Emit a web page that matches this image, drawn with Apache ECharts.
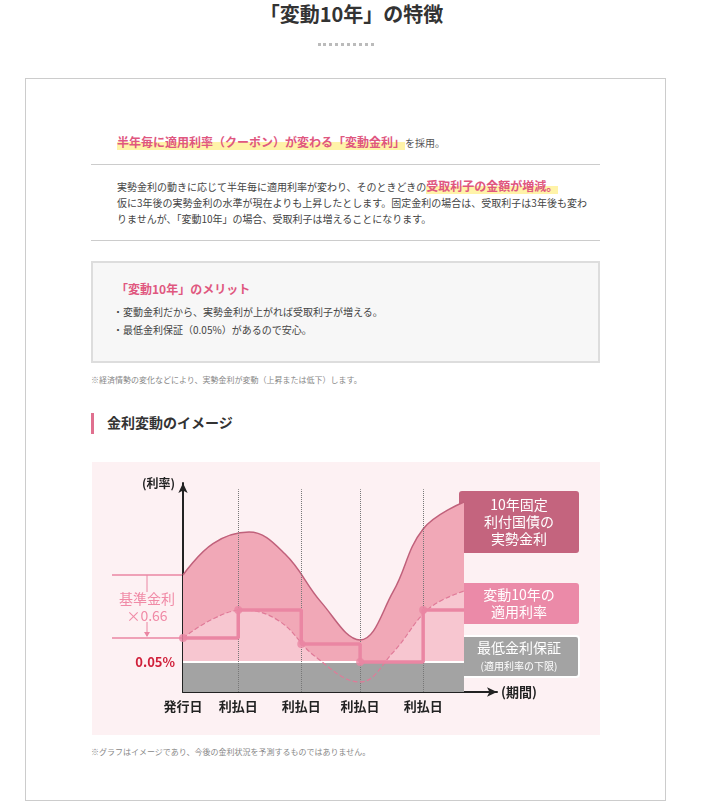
<!DOCTYPE html>
<html><head><meta charset="utf-8">
<script src="https://cdn.jsdelivr.net/npm/echarts@6/dist/echarts.min.js"></script>
<style>
body{margin:0;width:703px;height:808px;position:relative;background:#fff;font-family:"Noto Sans CJK JP",sans-serif;color:#444;overflow:hidden}
.a{position:absolute;white-space:nowrap;line-height:1}
.hl{background:linear-gradient(transparent 55%,#fff3a8 55%);color:#e0577f;font-weight:bold;font-size:12px}
.t{font-size:10px;color:#444}
</style></head><body>
<div class="a" style="left:0;width:703px;text-align:center;top:4px;font-size:20px;font-weight:bold;color:#333">「変動10年」の特徴</div>
<div class="a" style="left:318px;top:43px;width:56px;border-top:3px dotted #bbb"></div>
<div class="a" style="left:25px;top:78px;width:639px;height:721px;border:1px solid #ccc"></div>
<div class="a" style="left:117px;top:132px"><span class="hl">半年毎に適用利率（クーポン）が変わる「変動金利」</span><span style="font-size:10px;color:#555">を採用。</span></div>
<div class="a" style="left:91px;top:164px;width:509px;border-top:1px solid #ccc"></div>
<div class="a t" style="left:117px;top:180px">実勢金利の動きに応じて半年毎に適用利率が変わり、そのときどきの<span class="hl">受取利子の金額が増減。</span></div>
<div class="a t" style="left:117px;top:198px">仮に3年後の実勢金利の水準が現在よりも上昇したとします。固定金利の場合は、受取利子は3年後も変わ</div>
<div class="a t" style="left:117px;top:214px">りませんが、「変動10年」の場合、受取利子は増えることになります。</div>
<div class="a" style="left:91px;top:240px;width:509px;border-top:1px solid #ccc"></div>
<div class="a" style="left:91px;top:261px;width:505px;height:98px;background:#f7f7f7;border:2px solid #ddd"></div>
<div class="a" style="left:116px;top:283px;font-size:12px;font-weight:bold;color:#e0577f">「変動10年」のメリット</div>
<div class="a t" style="left:113px;top:307px">・変動金利だから、実勢金利が上がれば受取利子が増える。</div>
<div class="a t" style="left:113px;top:325px">・最低金利保証（0.05%）があるので安心。</div>
<div class="a" style="left:91px;top:376px;font-size:8px;color:#888">※経済情勢の変化などにより、実勢金利が変動（上昇または低下）します。</div>
<div class="a" style="left:91px;top:413px;width:3px;height:21px;background:#e0708f"></div>
<div class="a" style="left:107px;top:415px;font-size:14px;font-weight:bold;color:#333">金利変動のイメージ</div>
<div class="a" style="left:92px;top:462px;width:508px;height:273px;background:#fdf1f3"></div>
<div id="c" class="a" style="left:92px;top:462px;width:508px;height:273px"></div>
<div class="a" style="left:91px;top:748px;font-size:8px;color:#888">※グラフはイメージであり、今後の金利状況を予測するものではありません。</div>
<script>
const tickPos=[0,0.92,1.97,2.95,4.0];
const tickLabels=['発行日','利払日','利払日','利払日','利払日'];
const realX=[0,0.5,1.1,1.7,2.3,2.95,3.5,4.0,4.68];
const realY=[5.6,7.1,7.65,6.6,4.3,2.49,4.8,7.8,9.09];
const dashX=[0,0.5,1.0,1.6,2.2,2.95,3.5,4.1,4.68];
const dashY=[2.58,3.5,3.92,3.4,1.7,0.48,1.9,4.0,4.83];
const floorVal=1.44;
const stepStarts=[0,0.92,1.97,2.95,4.0];
const stepEnds=[0.92,1.97,2.95,4.0,4.68];
const stepVals=[2.58,3.92,2.30,1.44,3.92];
const endX=4.68;

const zip=(a,b)=>a.map((v,i)=>[v,b[i]]);
const stepData=[];
stepStarts.forEach((s,i)=>{stepData.push([s,stepVals[i]]);stepData.push([stepEnds[i],stepVals[i]]);});
const dots=stepStarts.map((s,i)=>[s,stepVals[i]]);
const ch=echarts.init(document.getElementById('c'));
const F='"Noto Sans CJK JP",sans-serif';
ch.setOption({
 animation:false,
 grid:{left:91,top:21,right:103,bottom:43},
 xAxis:{type:'value',min:0,max:5.23,splitLine:{show:false},
  axisLine:{lineStyle:{color:'#222',width:2},symbol:['none','arrow'],symbolSize:[7,10]},
  axisTick:{show:false},
  axisLabel:{customValues:tickPos,formatter:v=>{const i=tickPos.findIndex(p=>Math.abs(p-v)<1e-6);return i>=0?tickLabels[i]:'';},
   color:'#222',fontWeight:'bold',fontSize:13,fontFamily:F,margin:8},
  name:'(期間)',nameGap:4,nameTextStyle:{color:'#222',fontWeight:'bold',fontSize:13,fontFamily:F}},
 yAxis:{type:'value',min:0,max:10,splitLine:{show:false},
  axisLine:{show:true,lineStyle:{color:'#222',width:2},symbol:['none','arrow'],symbolSize:[7,10]},
  axisTick:{show:false},
  axisLabel:{customValues:[floorVal],formatter:()=>'0.05%',color:'#d0203a',fontWeight:'bold',fontSize:13,fontFamily:F,margin:8},
  name:'(利率)',nameLocation:'end',nameGap:-6,nameTextStyle:{color:'#222',fontWeight:'bold',fontSize:12,fontFamily:F,align:'right',padding:[0,8,0,0]}},
 series:[
  {type:'line',data:zip(realX,realY),smooth:0.4,symbol:'none',lineStyle:{color:'#c0617b',width:1.5},areaStyle:{color:'#f1a8b7',opacity:1},z:2,
   markLine:{silent:true,symbol:'none',label:{show:false},lineStyle:{color:'#777',type:'dotted',width:1},data:tickPos.slice(1).map(p=>[{coord:[p,0]},{coord:[p,9.7]}])}},
  {type:'line',data:zip(dashX,dashY),smooth:0.4,symbol:'none',lineStyle:{width:0},areaStyle:{color:'#f7c6d0',opacity:1},z:3},
  {type:'line',data:[[0,floorVal],[endX,floorVal]],symbol:'none',lineStyle:{color:'#fff',width:2},areaStyle:{color:'#a3a3a3',opacity:1},z:4},
  {type:'line',data:zip(dashX,dashY),smooth:0.4,symbol:'none',lineStyle:{color:'#e07a98',width:1.2,type:'dashed'},z:5},
  {type:'line',data:stepData,symbol:'none',lineStyle:{color:'#ea86a3',width:3.5},z:6},
  {type:'scatter',data:dots,symbolSize:8,itemStyle:{color:'#ea86a3'},z:7}
 ],
 graphic:[
  {type:'line',shape:{x1:20,y1:113,x2:91,y2:113},style:{stroke:'#ea86a3',lineWidth:1.5}},
  {type:'line',shape:{x1:20,y1:176,x2:91,y2:176},style:{stroke:'#ea86a3',lineWidth:1.5}},
  {type:'line',shape:{x1:55,y1:113,x2:55,y2:130},style:{stroke:'#ea86a3',lineWidth:1}},
  {type:'line',shape:{x1:55,y1:160,x2:55,y2:174},style:{stroke:'#ea86a3',lineWidth:1}},
  {type:'polygon',shape:{points:[[52,170],[58,170],[55,175]]},style:{fill:'#ea86a3'}},
  {type:'text',x:55,y:145,style:{text:'基準金利\n×0.66',fill:'#f08aa6',font:'14px '+F,align:'center',verticalAlign:'middle',lineHeight:17}},
  {type:'rect',shape:{x:367,y:29,width:120,height:62,r:3},style:{fill:'#c4647e'}},
  {type:'text',x:427,y:60,style:{text:'10年固定\n利付国債の\n実勢金利',fill:'#fff',font:'14px '+F,align:'center',verticalAlign:'middle',lineHeight:17}},
  {type:'rect',shape:{x:367,y:121,width:120,height:41,r:3},style:{fill:'#eb8aa8'}},
  {type:'text',x:427,y:141,style:{text:'変動10年の\n適用利率',fill:'#fff',font:'14px '+F,align:'center',verticalAlign:'middle',lineHeight:17}},
  {type:'rect',shape:{x:367,y:174,width:120,height:41,r:3},style:{fill:'#a3a3a3',stroke:'#fff',lineWidth:2}},
  {type:'text',x:427,y:186,style:{text:'最低金利保証',fill:'#fff',font:'14px '+F,align:'center',verticalAlign:'middle'}},
  {type:'text',x:427,y:204,style:{text:'(適用利率の下限)',fill:'#fff',font:'10px '+F,align:'center',verticalAlign:'middle'}}
 ]
});
</script></body></html>
